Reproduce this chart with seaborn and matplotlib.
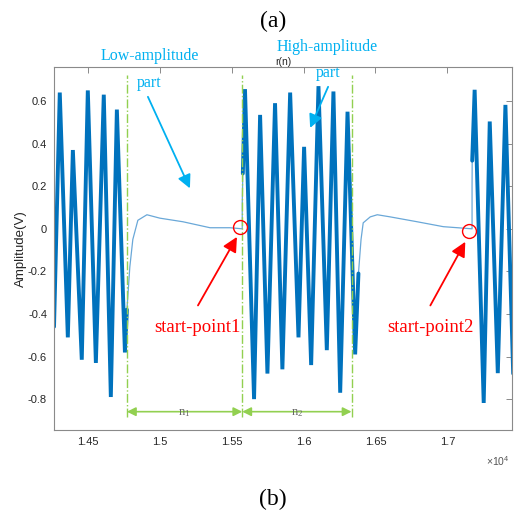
import matplotlib
matplotlib.use("Agg")
import matplotlib.pyplot as plt
import pandas as pd
import seaborn as sns

# ---------------- data ----------------
# oscillating (high-amplitude) segments: extrema of r(n)
osc1_n = [14265, 14305, 14361, 14396, 14458, 14500, 14556, 14611, 14660, 14702, 14758, 14772]
osc1_r = [-0.46, 0.64, -0.51, 0.37, -0.615, 0.65, -0.63, 0.63, -0.79, 0.56, -0.58, -0.38]

osc2_n = [15578, 15593, 15656, 15698, 15749, 15802, 15853, 15907, 15965, 16004,
          16053, 16104, 16162, 16208, 16255, 16306, 16359, 16382]
osc2_r = [0.26, 0.656, -0.80, 0.535, -0.68, 0.59, -0.66, 0.64, -0.51, 0.385,
          -0.64, 0.67, -0.57, 0.645, -0.77, 0.55, -0.59, -0.21]

osc3_n = [17173, 17190, 17253, 17295, 17351, 17404, 17458]
osc3_r = [0.32, 0.653, -0.818, 0.504, -0.678, 0.582, -0.68]

# quiet (low-amplitude) segments
quiet1_n = [14772, 14792, 14813, 14848, 14911, 15001, 15162, 15350, 15489, 15574, 15574, 15578]
quiet1_r = [-0.38, -0.18, -0.05, 0.04, 0.066, 0.05, 0.033, 0.005, 0.005, 0.0, 0.12, 0.26]

quiet2_n = [16382, 16400, 16415, 16464, 16513, 16603, 16791, 16972, 17172, 17172, 17173]
quiet2_r = [-0.21, -0.05, 0.028, 0.056, 0.066, 0.056, 0.033, 0.01, 0.0, 0.2, 0.32]

boundaries_n = [14772, 15574, 16334]
start_points_n = [15558, 17153]
start_points_r = [0.01, -0.01]

x_ticks = [14500, 15000, 15500, 16000, 16500, 17000]
x_tick_labels = ["1.45", "1.5", "1.55", "1.6", "1.65", "1.7"]
y_ticks = [0.6, 0.4, 0.2, 0.0, -0.2, -0.4, -0.6, -0.8]
y_tick_labels = ["0.6", "0.4", "0.2", "0", "-0.2", "-0.4", "-0.6", "-0.8"]

# ---------------- style ----------------
sns.set_style("white")
plt.rcParams["font.family"] = ["Liberation Sans", "DejaVu Sans"]
plt.rcParams["mathtext.fontset"] = "custom"
plt.rcParams["mathtext.rm"] = "Liberation Serif"
plt.rcParams["mathtext.sf"] = "Liberation Sans"

BLUE = "#0072BD"
QUIET = "#6aa8d8"
CYAN = "#00B0F0"
GREEN = "#92D050"
RED = "#FF0000"
GRAY = "#8a8a8a"
TXT = "#262626"
SERIF = ["Liberation Serif", "DejaVu Serif"]

fig = plt.figure(figsize=(5.25, 5.17), dpi=100)
ax = fig.add_axes([0.1029, 0.1683, 0.8724, 0.7021])

def seg(n, r):
    return pd.DataFrame({"n": n, "r": r})

for n, r in [(quiet1_n, quiet1_r), (quiet2_n, quiet2_r)]:
    sns.lineplot(data=seg(n, r), x="n", y="r", sort=False, estimator=None,
                 color=QUIET, lw=0.9, ax=ax)
for n, r in [(osc1_n, osc1_r), (osc2_n, osc2_r), (osc3_n, osc3_r)]:
    sns.lineplot(data=seg(n, r), x="n", y="r", sort=False, estimator=None,
                 color=BLUE, lw=2.8, ax=ax, solid_joinstyle="miter")

ax.set_xlim(14265, 17450)
ax.set_ylim(-0.945, 0.76)
ax.set_xticks(x_ticks)
ax.set_xticklabels(x_tick_labels)
ax.set_yticks(y_ticks)
ax.set_yticklabels(y_tick_labels)
ax.set_xlabel("")
ax.set_ylabel("Amplitude(V)", fontsize=9.5, color=TXT, labelpad=1)
ax.tick_params(direction="in", length=4, width=0.7, top=True, right=True,
               color=GRAY, labelcolor=TXT, labelsize=8, pad=5)
for s in ax.spines.values():
    s.set_color(GRAY)
    s.set_linewidth(0.8)
ax.set_title("r(n)", fontsize=7.5, color=TXT, pad=1.5)
ax.text(0.969, -0.085, r"$\mathsf{\times10^{4}}$", transform=ax.transAxes,
        ha="center", va="center", fontsize=7.5, color="#555555")

# boundary dash-dot lines
ax.vlines(boundaries_n, -0.883, 0.723, colors=GREEN, linestyles="-.", lw=1.0)
# double arrows n1, n2
for a, b, lab in [(boundaries_n[0], boundaries_n[1], r"$\mathrm{n_1}$"),
                  (boundaries_n[1], boundaries_n[2], r"$\mathrm{n_2}$")]:
    ax.annotate("", xy=(b, -0.859), xytext=(a, -0.859),
                arrowprops=dict(arrowstyle="<|-|>", color=GREEN, lw=1.2,
                                mutation_scale=13, shrinkA=0, shrinkB=0))
    ax.text((a + b) / 2, -0.866, lab, ha="center", va="center",
            fontsize=9, color="#666666")

# start-point circles
ax.plot(start_points_n, start_points_r, "o", mfc="none", mec=RED, mew=1.0, ms=10)

# red arrows + labels
for tip, tail, lab, lx in [((15537, -0.038), (15266, -0.36), "start-point1", 15259),
                           ((17125, -0.061), (16882, -0.36), "start-point2", 16882)]:
    ax.annotate("", xy=tip, xytext=tail,
                arrowprops=dict(arrowstyle="-|>", color=RED, lw=1.3,
                                mutation_scale=22, shrinkA=0, shrinkB=0))
    ax.text(lx, -0.465, lab, ha="center", va="center", fontsize=13.5,
            color=RED, family=SERIF)

# cyan annotations
ax.text(14932, 0.812, "Low-amplitude", ha="center", va="center", fontsize=11.5,
        color=CYAN, family=SERIF, clip_on=False)
ax.text(14925, 0.685, "part", ha="center", va="center", fontsize=11.5,
        color=CYAN, family=SERIF)
ax.annotate("", xy=(15210, 0.19), xytext=(14918, 0.62),
            arrowprops=dict(arrowstyle="-|>", color=CYAN, lw=1.3,
                            mutation_scale=20, shrinkA=0, shrinkB=0))
ax.text(16164, 0.854, "High-amplitude", ha="center", va="center", fontsize=11.5,
        color=CYAN, family=SERIF, clip_on=False)
ax.text(16171, 0.732, "part", ha="center", va="center", fontsize=11.5,
        color=CYAN, family=SERIF)
ax.annotate("", xy=(16046, 0.474), xytext=(16171, 0.667),
            arrowprops=dict(arrowstyle="-|>", color=CYAN, lw=1.3,
                            mutation_scale=20, shrinkA=0, shrinkB=0))

# panel labels
fig.text(0.52, 0.959, "(a)", ha="center", va="center", fontsize=17,
         family=SERIF, color="black")
fig.text(0.52, 0.033, "(b)", ha="center", va="center", fontsize=17,
         family=SERIF, color="black")

fig.savefig("out.png", dpi=100)
